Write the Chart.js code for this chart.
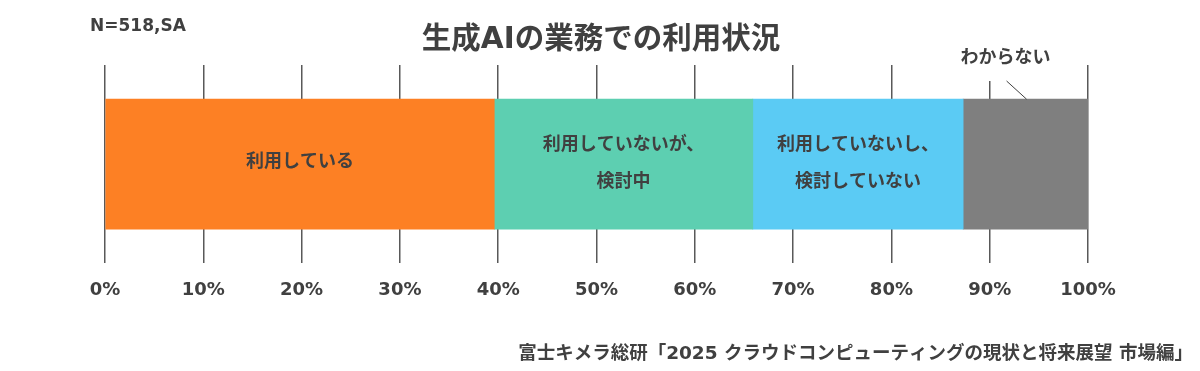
<!DOCTYPE html>
<html>
<head>
<meta charset="utf-8">
<script src="https://cdn.jsdelivr.net/npm/chart.js@4/dist/chart.umd.min.js"></script>
<style>
  html, body { margin: 0; padding: 0; background: #fff; }
  #wrap { width: 1200px; height: 371px; position: relative; }
</style>
</head>
<body>
<div id="wrap"><canvas id="usage"></canvas></div>
<script>
// data (share of respondents, %)
var categories = ['利用している', '利用していないが、\n検討中', '利用していないし、\n検討していない', 'わからない'];
var shares = [39.6, 26.3, 21.4, 12.7];
var colours = ['#FD8024', '#5DCFB1', '#5BCBF4', '#7F7F7F'];
var tickLabels = ['0%', '10%', '20%', '30%', '40%', '50%', '60%', '70%', '80%', '90%', '100%'];

var titleText = '生成AIの業務での利用状況';
var sampleNote = 'N=518,SA';
var sourceNote = '富士キメラ総研「2025 クラウドコンピューティングの現状と将来展望 市場編」';

var FONT = '"DejaVu Sans", "Noto Sans CJK JP", sans-serif';
var TEXT = '#404040';

// labels inside the segments, outside label for the last one, notes
var labelPlugin = {
    id: 'segLabels',
    afterDatasetsDraw: function(chart) {
        var ctx = chart.ctx;
        ctx.save();
        ctx.fillStyle = TEXT;
        ctx.textAlign = 'center';
        ctx.textBaseline = 'middle';
        ctx.font = 'bold 18px ' + FONT;
        chart.data.datasets.forEach(function(ds, i) {
            var bar = chart.getDatasetMeta(i).data[0];
            var cx = (bar.x + bar.base) / 2;
            var lines = categories[i].split('\n');
            if (i == categories.length - 1) {
                // outside label with leader line
                var lx = cx - 20;
                ctx.fillText(lines[0], lx, 58);
                ctx.strokeStyle = '#404040';
                ctx.lineWidth = 1;
                ctx.beginPath();
                ctx.moveTo(lx + 1, 81);
                ctx.lineTo(lx + 21, bar.y - bar.height / 2);
                ctx.stroke();
                return;
            }
            if (lines.length == 1) {
                ctx.fillText(lines[0], cx, bar.y - 2);
            } else {
                ctx.fillText(lines[0], cx, bar.y - 19);
                ctx.fillText(lines[1], cx, bar.y + 18);
            }
        });
        ctx.font = 'bold 29.5px ' + FONT;
        ctx.fillText(titleText, 601, 40);
        ctx.textAlign = 'left';
        ctx.font = 'bold 17px ' + FONT;
        ctx.fillText(sampleNote, 90, 27);
        ctx.textAlign = 'right';
        ctx.font = 'bold 18.5px ' + FONT;
        ctx.fillText(sourceNote, 1193, 354);
        ctx.restore();
    }
};

// white box behind the outside label so the 90% line stops below it
var maskPlugin = {
    id: 'labelMask',
    beforeDatasetsDraw: function(chart) {
        var ctx = chart.ctx;
        ctx.save();
        ctx.fillStyle = '#fff';
        ctx.fillRect(940, 60, 120, 21);
        ctx.restore();
    }
};

var datasets = categories.map(function(c, i) {
    return {
        label: c,
        data: [shares[i]],
        backgroundColor: colours[i],
        borderWidth: 0,
        barThickness: 130
    };
});

new Chart(document.getElementById('usage'), {
    type: 'bar',
    data: { labels: [''], datasets: datasets },
    options: {
        indexAxis: 'y',
        responsive: true,
        maintainAspectRatio: false,
        animation: false,
        layout: { padding: { top: 65, left: 105, right: 112, bottom: 54 } },
        plugins: {
            legend: { display: false },
            tooltip: { enabled: false },
            title: { display: false }
        },
        scales: {
            x: {
                stacked: true,
                min: 0,
                max: 100,
                ticks: {
                    stepSize: 10,
                    padding: 16,
                    color: TEXT,
                    font: { family: FONT, size: 18, weight: 'bold' },
                    callback: function(v, idx) { return tickLabels[idx]; }
                },
                grid: { color: '#595959', lineWidth: 1.5, drawTicks: false },
                border: { display: false }
            },
            y: {
                stacked: true,
                display: false
            }
        }
    },
    plugins: [maskPlugin, labelPlugin]
});
</script>
</body>
</html>
